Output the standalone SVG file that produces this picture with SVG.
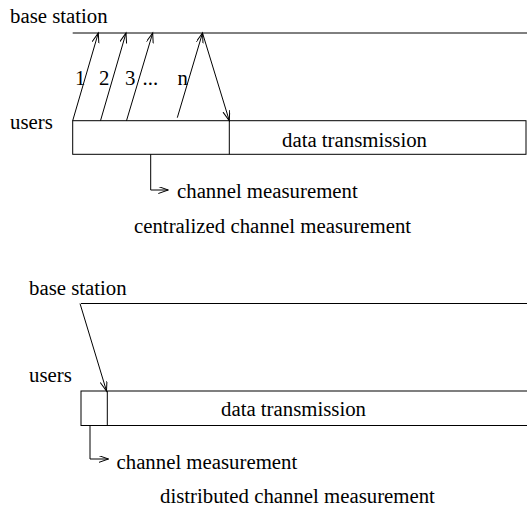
<svg xmlns="http://www.w3.org/2000/svg" width="527" height="508" viewBox="0 0 527 508">
<style>
text{font-family:"Liberation Serif","Times New Roman",serif;font-size:20.8px;fill:#000}
.ln{stroke:#000;stroke-width:1;fill:none}
.box{stroke:#000;stroke-width:1;fill:#fff}
</style>
<defs>
<marker id="ah" markerUnits="userSpaceOnUse" markerWidth="12" markerHeight="9" refX="10" refY="3.5" orient="auto">
<path d="M0,0 L10,3.5 L0,7" fill="none" stroke="#000" stroke-width="1"/>
</marker>
</defs>
<rect width="527" height="508" fill="#fff"/>
<g id="top">
<g id="top-labels">
<text x="10" y="23">base station</text>
<text x="10" y="129">users</text>
</g>
<g id="top-bs-line"><line class="ln" x1="72.7" y1="33" x2="527" y2="33"/></g>
<g id="top-box">
<rect class="box" x="72.7" y="120.7" width="453.3" height="33.6"/>
<line class="ln" x1="229.3" y1="120.7" x2="229.3" y2="154.3"/>
<text x="282" y="147">data transmission</text>
</g>
<g id="top-seq-labels">
<text x="75" y="85">1</text>
<text x="99" y="85">2</text>
<text x="125" y="85">3</text>
<text x="142.5" y="85">...</text>
<text x="177.5" y="85">n</text>
</g>
<g id="top-caption">
<text x="177" y="197.5">channel measurement</text>
<text x="134" y="233">centralized channel measurement</text>
</g>
</g>
<g id="bottom">
<g id="bottom-labels">
<text x="29" y="295">base station</text>
<text x="29" y="382">users</text>
</g>
<g id="bottom-bs-line"><line class="ln" x1="81" y1="303.5" x2="527" y2="303.5"/></g>
<g id="bottom-box">
<rect class="box" x="81" y="391" width="460" height="34.5"/>
<line class="ln" x1="107.3" y1="391" x2="107.3" y2="425.5"/>
<text x="221" y="415.5">data transmission</text>
</g>
<g id="bottom-caption">
<text x="116.5" y="468.5">channel measurement</text>
<text x="160" y="503">distributed channel measurement</text>
</g>
</g>
<g id="connectors">
<line class="ln" x1="72.7" y1="120.7" x2="98.3" y2="33" marker-end="url(#ah)"/>
<line class="ln" x1="100.5" y1="120.7" x2="126" y2="33" marker-end="url(#ah)"/>
<line class="ln" x1="126.5" y1="120.7" x2="152.7" y2="33" marker-end="url(#ah)"/>
<line class="ln" x1="177.3" y1="117.7" x2="202.5" y2="33" marker-end="url(#ah)"/>
<line class="ln" x1="202.5" y1="33" x2="229.3" y2="120.7" marker-end="url(#ah)"/>
<polyline class="ln" points="150.7,154.3 150.7,190 168.3,190" marker-end="url(#ah)"/>
<line class="ln" x1="80" y1="303.5" x2="106.5" y2="391" marker-end="url(#ah)"/>
<polyline class="ln" points="90,425.5 90,459 108.5,459" marker-end="url(#ah)"/>
</g>
</svg>
